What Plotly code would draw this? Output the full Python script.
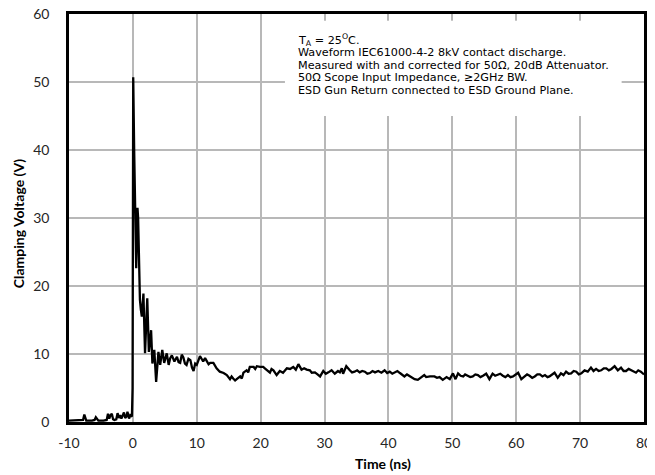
import plotly.graph_objects as go

# ---- data ----
time_ns = [
    -10.0, -8.2, -7.8, -7.6, -7.3, -6.4, -6.0, -5.8, -5.4, -4.6, -4.1, -3.9, -3.7, -3.5,
    -3.3, -3.1, -2.9, -2.6, -2.4, -2.2, -2.0, -1.8, -1.6, -1.4, -1.2, -1.0, -0.85, -0.6,
    -0.4, -0.15, -0.05, 0.05, 0.2, 0.4, 0.52, 0.62, 0.72, 0.82, 0.95, 1.1, 1.25, 1.4,
    1.65, 1.9, 2.25, 2.5, 2.85, 3.05, 3.35, 3.64, 4.0, 4.27, 4.6, 4.9, 5.3, 5.6, 5.85,
    6.1, 6.5, 6.9, 7.15, 7.4, 7.65, 7.9, 8.15, 8.4, 8.7, 9.0, 9.25, 9.5, 9.75, 10.0,
    10.5, 11.0, 11.3, 11.6, 11.85, 12.1, 12.6, 13.1, 13.35, 13.6, 14.2, 14.45, 14.7,
    15.2, 15.45, 15.7, 16.0, 16.25, 16.8, 17.05, 17.3, 17.8, 18.05, 18.3, 18.9, 19.15,
    19.4, 19.9, 20.4, 20.65, 20.9, 21.45, 21.7, 22.0, 22.5, 23.0, 23.5, 23.8, 24.1,
    24.6, 25.1, 25.5, 25.9, 26.4, 26.8, 27.2, 27.7, 28.0, 28.5, 28.9, 29.3, 29.8, 30.2,
    30.6, 31.1, 31.6, 32.1, 32.4, 32.7, 32.9, 33.4, 33.95, 34.3, 34.7, 35.1, 35.5,
    35.9, 36.3, 36.7, 37.1, 37.5, 37.9, 38.4, 38.9, 39.4, 39.8, 40.2, 40.6, 41.0, 41.4,
    41.8, 42.2, 42.5, 42.9, 43.3, 43.7, 44.1, 44.6, 45.2, 45.6, 45.9, 46.5, 47.2, 47.6,
    48.0, 48.5, 49.1, 49.6, 50.1, 50.5, 50.9, 51.3, 51.7, 52.0, 52.4, 52.8, 53.2, 53.6,
    54.0, 54.4, 54.8, 55.3, 55.8, 56.3, 56.7, 57.1, 57.5, 57.9, 58.3, 58.7, 59.1, 59.5,
    60.3, 60.8, 61.3, 61.7, 62.1, 62.5, 62.9, 63.3, 63.7, 64.1, 64.5, 64.9, 65.2, 65.6,
    66.0, 66.5, 67.0, 67.4, 67.8, 68.2, 68.6, 69.0, 69.4, 69.8, 70.2, 70.7, 71.2, 71.7,
    72.1, 72.5, 72.9, 73.3, 73.7, 74.1, 74.5, 74.9, 75.4, 75.9, 76.4, 76.8, 77.2, 77.6,
    78.0, 78.4, 78.75, 79.1, 79.5, 80.0,
]
voltage_v = [
    0.2, 0.2, 0.3, 1.1, 0.2, 0.2, 0.3, 0.7, 0.2, 0.2, 0.3, 1.2, 0.5, 1.0,
    1.2, 0.4, 0.3, 0.4, 1.3, 0.6, 1.0, 0.5, 0.9, 1.4, 0.6, 0.8, 1.5, 0.5,
    1.0, 0.8, 5.0, 50.7, 40.0, 25.5, 22.6, 27.0, 31.5, 30.0, 22.6, 18.0, 16.5, 15.5,
    18.9, 10.1, 18.2, 10.3, 13.5, 8.6, 10.6, 5.9, 10.3, 8.4, 10.6, 8.7, 10.1, 8.4, 9.4,
    9.8, 8.9, 9.6, 8.8, 8.7, 9.9, 9.5, 8.6, 8.4, 9.3, 9.1, 8.0, 7.5, 8.6, 8.4,
    9.7, 8.9, 9.4, 9.0, 8.5, 8.7, 8.7, 7.9, 7.6, 7.4, 7.2, 7.0, 6.9,
    6.3, 6.7, 6.4, 6.1, 6.3, 6.7, 6.4, 7.25, 7.6, 7.3, 8.1, 8.1, 7.8,
    8.2, 8.1, 8.1, 7.9, 7.7, 7.25, 7.8, 7.6, 6.9, 7.5, 7.25, 7.6, 7.9,
    7.8, 8.1, 7.7, 8.5, 7.7, 7.9, 7.7, 7.6, 7.25, 7.3, 7.0, 6.7, 7.5, 7.1,
    7.3, 7.6, 7.1, 7.5, 7.3, 7.9, 7.1, 8.2, 7.6, 7.3, 7.4, 7.6, 7.3,
    7.5, 7.4, 7.1, 7.2, 7.5, 7.3, 7.5, 7.25, 7.6, 7.2, 7.4, 7.1, 7.3, 7.5,
    7.2, 6.9, 6.7, 7.0, 6.8, 6.5, 6.3, 6.2, 6.6, 6.9, 6.6, 6.7, 6.7, 6.5,
    6.6, 6.2, 6.6, 6.3, 7.15, 6.3, 7.15, 6.8, 6.7, 7.0, 6.8, 6.6, 6.7, 7.0,
    6.9, 6.6, 6.8, 7.1, 6.3, 7.1, 6.8, 6.9, 7.1, 6.8, 6.6, 6.9, 6.6, 6.7,
    7.25, 6.3, 6.7, 7.0, 6.8, 6.5, 6.7, 7.0, 7.0, 6.7, 6.9, 6.6, 6.7, 7.0,
    7.25, 6.5, 7.15, 6.9, 7.4, 7.1, 7.15, 7.5, 7.4, 7.0, 7.15, 7.6, 7.4, 8.0,
    7.5, 7.8, 7.5, 7.6, 7.9, 7.9, 7.6, 7.8, 8.2, 7.6, 8.0, 7.5, 7.5, 7.8,
    7.6, 7.3, 7.25, 7.6, 7.4, 7.0,
]
x_ticks = [-10, 0, 10, 20, 30, 40, 50, 60, 70, 80]
y_ticks = [0, 10, 20, 30, 40, 50, 60]
note_lines = [
    "T<sub>A</sub> = 25<sup>O</sup>C.",
    "Waveform IEC61000-4-2 8kV contact discharge.",
    "Measured with and corrected for 50\u03a9, 20dB Attenuator.",
    "50\u03a9 Scope Input Impedance, \u22652GHz BW.",
    "ESD Gun Return connected to ESD Ground Plane.",
]
x_title = "Time (ns)"
y_title = "Clamping Voltage (V)"

fig = go.Figure()
fig.add_trace(go.Scatter(
    x=time_ns, y=voltage_v, mode="lines",
    line=dict(color="black", width=2.3),
    hoverinfo="skip",
))

tick_font = dict(family="Lato", size=14, color="#262626")
title_font = dict(family="Lato", size=14, color="#000000")

# the page body has an 8px default margin, so the figure is sized/placed to compensate
fig.update_layout(
    width=647, height=467,
    margin=dict(l=61, r=11, t=6, b=53),
    paper_bgcolor="white", plot_bgcolor="white",
    showlegend=False,
)
fig.update_xaxes(
    range=[-10, 80], tickvals=x_ticks, ticktext=[str(v) for v in x_ticks],
    showgrid=True, gridcolor="#b8b8b8", gridwidth=1.5,
    showline=True, linecolor="black", linewidth=2.5, mirror=True,
    zeroline=False, ticks="", tickfont=tick_font, ticklabelstandoff=6,
    ticklabeloverflow="allow", automargin=False,
)
fig.update_yaxes(
    range=[0, 60], tickvals=y_ticks, ticktext=[str(v) for v in y_ticks],
    showgrid=True, gridcolor="#b8b8b8", gridwidth=1.5,
    showline=True, linecolor="black", linewidth=2.5, mirror=True,
    zeroline=False, ticks="", tickfont=tick_font, ticklabelstandoff=14,
    ticklabeloverflow="allow", automargin=False,
)

# axis titles
fig.add_annotation(x=0.546, y=-0.1005, xref="paper", yref="paper", text="<b>" + x_title + "</b>",
                   showarrow=False, xanchor="center", yanchor="middle", font=title_font)
fig.add_annotation(x=-0.0887, y=0.487, xref="paper", yref="paper", text="<b>" + y_title + "</b>",
                   showarrow=False, xanchor="center", yanchor="middle", textangle=-90,
                   font=title_font)

# white box behind the note text
fig.add_shape(type="rect", xref="x", yref="y", x0=23.8, x1=76.5, y0=45.0, y1=59.0,
              fillcolor="white", line=dict(width=0), layer="above")

note_y = [56.25, 54.37, 52.5, 50.63, 48.77]
for txt, yy in zip(note_lines, note_y):
    fig.add_annotation(x=25.5, y=yy, xref="x", yref="y", text=txt, showarrow=False,
                       xanchor="left", yanchor="middle",
                       font=dict(family="DejaVu Sans", size=11.2, color="#000000"))

fig.write_html("out.html")
